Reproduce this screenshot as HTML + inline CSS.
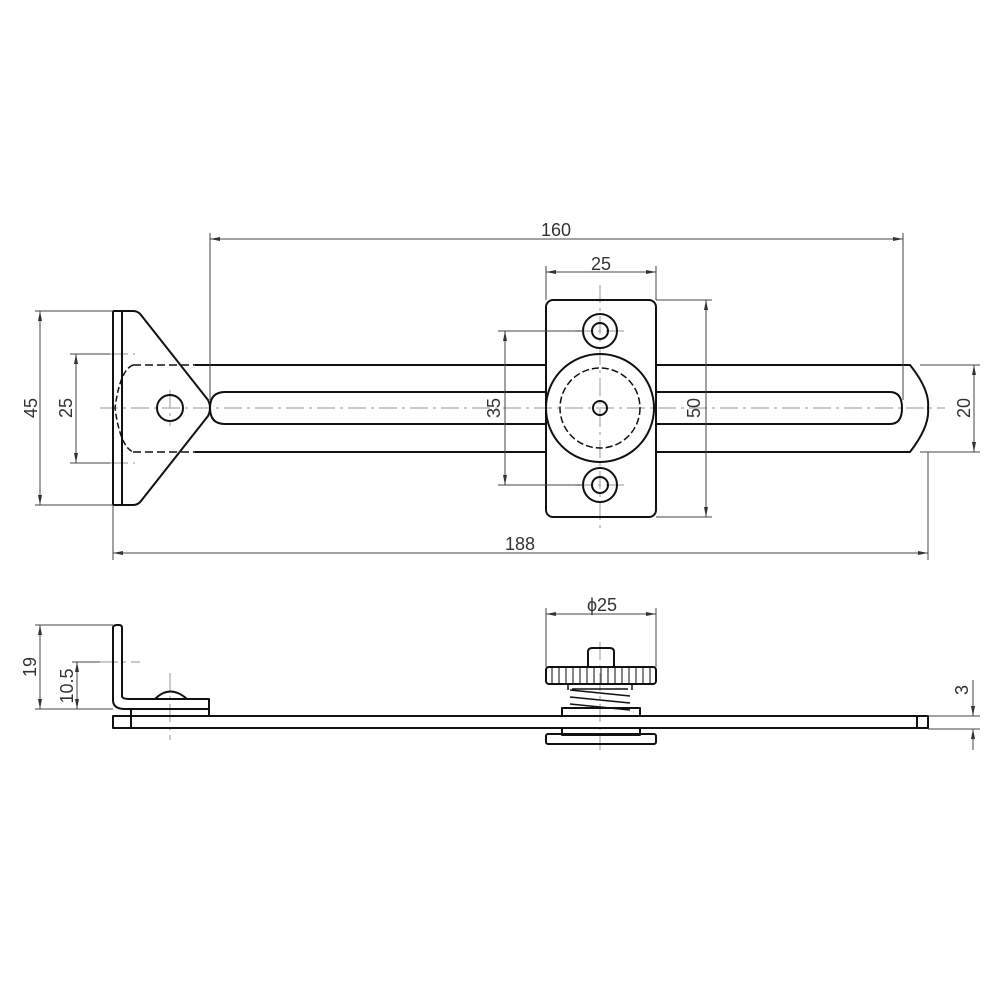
<!DOCTYPE html>
<html><head><meta charset="utf-8"><style>html,body{margin:0;padding:0;background:#fff}svg{display:block}</style></head>
<body>
<svg width="1000" height="1000" viewBox="0 0 1000 1000" xmlns="http://www.w3.org/2000/svg" font-family="Liberation Sans, sans-serif">
<defs>
<marker id="a" viewBox="0 0 10 4" refX="10" refY="2" markerWidth="10" markerHeight="4" orient="auto-start-reverse" markerUnits="userSpaceOnUse"><path d="M0,0 L10,2 L0,4z" fill="#333"/></marker>
</defs>
<g stroke="#aaa" stroke-width="1.2" stroke-dasharray="18,5,3,5" fill="none">
<line x1="100" y1="408" x2="945" y2="408"/>
<line x1="600" y1="285" x2="600" y2="530"/>
<line x1="170" y1="390" x2="170" y2="426"/>
<line x1="575" y1="331" x2="625" y2="331"/>
<line x1="575" y1="485" x2="625" y2="485"/>
<line x1="100" y1="662" x2="140" y2="662"/>
<line x1="170" y1="673" x2="170" y2="740"/>
<line x1="600" y1="642" x2="600" y2="750"/>
<line x1="110" y1="354" x2="135" y2="354"/>
<line x1="110" y1="463" x2="135" y2="463"/>
</g>
<g stroke="#111" stroke-width="2" fill="none" stroke-linejoin="round">
<!-- bracket top view -->
<path d="M113,311 L113,505 M122,311 L122,505"/>
<path d="M113,311 L133,311 Q138,311 141,315 L208,400 Q212,408 208,416 L141,501 Q138,505 133,505 L113,505"/>
<circle cx="170" cy="408" r="13"/>
<path d="M133,365 Q120,370 115,408 Q120,446 133,452" stroke-dasharray="6,3" stroke-width="1.5"/>
<path d="M133,365 L195,365 M133,452 L195,452" stroke-dasharray="8,4" stroke-width="1.5"/>
<!-- bar -->
<path d="M195,365 L546,365 M656,365 L910,365 Q930,390 928,408 Q930,426 910,452 L656,452 M546,452 L195,452"/>
<path d="M546,392 L225,392 Q210,392 210,408 Q210,424 225,424 L546,424"/>
<path d="M656,392 L890,392 Q902,392 902,408 Q902,424 890,424 L656,424"/>
<!-- carriage -->
<rect x="546" y="300" width="110" height="217" rx="7"/>
<circle cx="600" cy="408" r="54"/>
<circle cx="600" cy="408" r="40" stroke-dasharray="7,3" stroke-width="1.5"/>
<circle cx="600" cy="408" r="7"/>
<circle cx="600" cy="331" r="17"/><circle cx="600" cy="331" r="8"/>
<circle cx="600" cy="485" r="17"/><circle cx="600" cy="485" r="8"/>
<!-- side view -->
<path d="M113,700 L113,628 Q113,625 117,625 L119,625 Q122,625 122,628 L122,696 Q122,699 130,699 L209,699 L209,715"/>
<path d="M113,700 Q113,709 125,709 L209,709"/>
<path d="M155,699 Q170,684 187,699"/>
<rect x="113" y="716" width="815" height="12"/>
<path d="M131,709 L131,728 M917,716 L917,728"/>
<!-- knob -->
<path d="M588,667 L588,652 Q588,648 592,648 L610,648 Q614,648 614,652 L614,667"/>
<rect x="546" y="667" width="110" height="17" rx="3"/>
<path d="M568,684 L568,690 M632,684 L632,690" stroke-width="1.5"/>
<path d="M570,690 L630,696 M570,697 L630,703 M570,704 L630,710 M572,689 L628,689" stroke-width="1.5"/>
<rect x="562" y="708" width="78" height="8"/>
<rect x="562" y="728" width="78" height="7"/>
<rect x="546" y="734" width="110" height="10" rx="2"/>
</g>
<g stroke="#333" stroke-width="1.2" fill="none" stroke-dasharray="0">
<path d="M559,668 v15 M566,668 v15 M573,668 v15 M580,668 v15 M587,668 v15 M594,668 v15 M601,668 v15 M608,668 v15 M615,668 v15 M622,668 v15 M629,668 v15 M636,668 v15 M643,668 v15 M650,668 v15 M552,668 v15"/>
</g>
<g stroke="#444" stroke-width="1" fill="none">
<!-- extension lines -->
<path d="M210,233 V400 M903,233 V400"/>
<path d="M546,266 V300 M656,266 V300"/>
<path d="M656,300 H712 M656,517 H712"/>
<path d="M498,331 H583 M498,485 H583"/>
<path d="M920,365 H980 M920,452 H980"/>
<path d="M35,311 H113 M35,505 H113"/>
<path d="M70,354 H110 M70,463 H110"/>
<path d="M113,505 V560 M928,452 V560"/>
<path d="M35,625 H113 M72,662 H100 M35,709 H113"/>
<path d="M546,608 V667 M656,608 V667"/>
<path d="M928,716 H980 M928,729 H980"/>
<!-- dim lines -->
<line x1="210" y1="239" x2="903" y2="239" marker-start="url(#a)" marker-end="url(#a)"/>
<line x1="546" y1="272" x2="656" y2="272" marker-start="url(#a)" marker-end="url(#a)"/>
<line x1="706" y1="300" x2="706" y2="517" marker-start="url(#a)" marker-end="url(#a)"/>
<line x1="505" y1="331" x2="505" y2="485" marker-start="url(#a)" marker-end="url(#a)"/>
<line x1="974" y1="365" x2="974" y2="452" marker-start="url(#a)" marker-end="url(#a)"/>
<line x1="40" y1="311" x2="40" y2="505" marker-start="url(#a)" marker-end="url(#a)"/>
<line x1="76" y1="354" x2="76" y2="463" marker-start="url(#a)" marker-end="url(#a)"/>
<line x1="113" y1="553" x2="928" y2="553" marker-start="url(#a)" marker-end="url(#a)"/>
<line x1="40" y1="625" x2="40" y2="709" marker-start="url(#a)" marker-end="url(#a)"/>
<line x1="77" y1="662" x2="77" y2="709" marker-start="url(#a)" marker-end="url(#a)"/>
<line x1="546" y1="614" x2="656" y2="614" marker-start="url(#a)" marker-end="url(#a)"/>
<line x1="973" y1="680" x2="973" y2="716" marker-end="url(#a)"/>
<line x1="973" y1="750" x2="973" y2="729" marker-end="url(#a)"/>
</g>
<g fill="#333" font-size="18" text-anchor="middle">
<text x="556" y="236">160</text>
<text x="601" y="270">25</text>
<text x="520" y="550">188</text>
<text x="602" y="611">ϕ25</text>
<text transform="translate(700,408) rotate(-90)">50</text>
<text transform="translate(500,408) rotate(-90)">35</text>
<text transform="translate(970,408) rotate(-90)">20</text>
<text transform="translate(37,408) rotate(-90)">45</text>
<text transform="translate(72,408) rotate(-90)">25</text>
<text transform="translate(36,667) rotate(-90)">19</text>
<text transform="translate(73,686) rotate(-90)">10.5</text>
<text transform="translate(968,690) rotate(-90)">3</text>
</g>
</svg>
</body></html>
